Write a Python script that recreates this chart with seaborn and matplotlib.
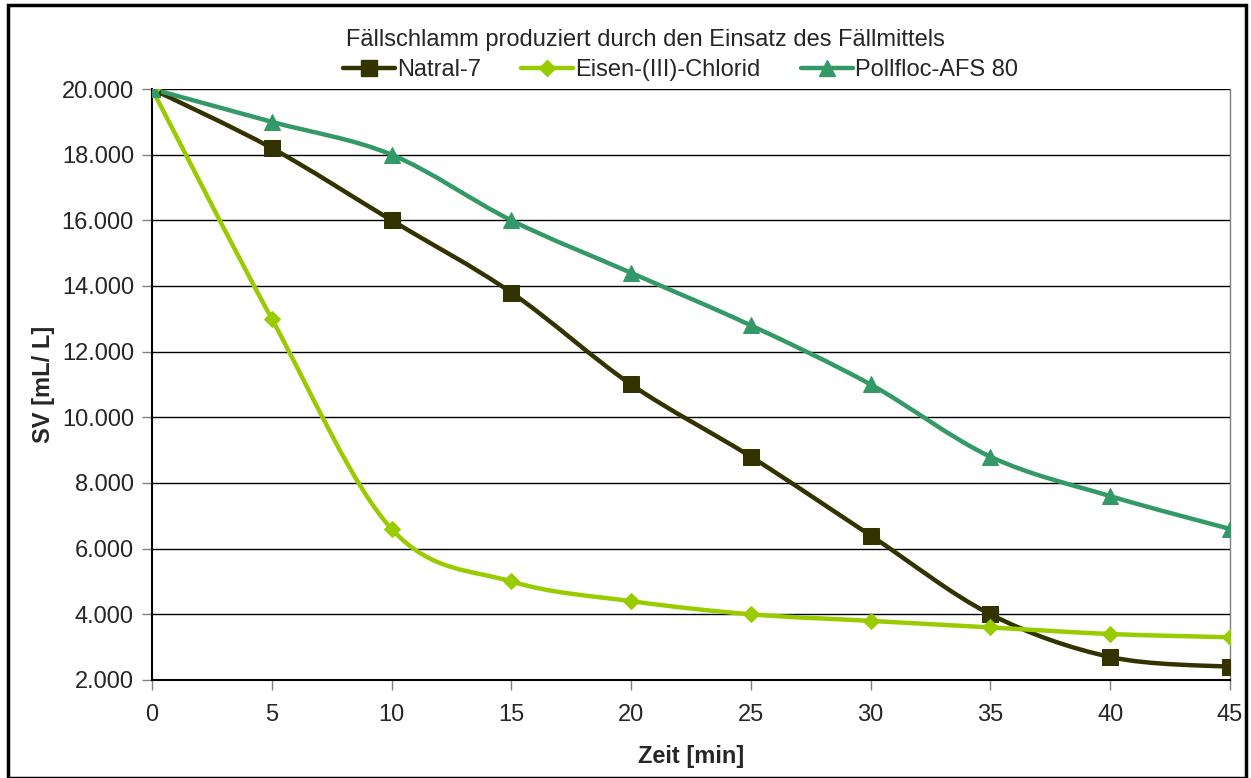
import numpy as np
import pandas as pd
import matplotlib
matplotlib.use("Agg")
import matplotlib.pyplot as plt
from matplotlib.path import Path
from matplotlib.patches import PathPatch, Rectangle
from matplotlib.ticker import FuncFormatter
from matplotlib.lines import Line2D
import seaborn as sns

time_min = [0, 5, 10, 15, 20, 25, 30, 35, 40, 45]
natral7 = [20000, 18200, 16000, 13800, 11000, 8800, 6400, 4000, 2700, 2400]
eisen = [20000, 13000, 6600, 5000, 4400, 4000, 3800, 3600, 3400, 3300]
pollfloc = [20000, 19000, 18000, 16000, 14400, 12800, 11000, 8800, 7600, 6600]
series_names = ["Natral-7", "Eisen-(III)-Chlorid", "Pollfloc-AFS 80"]
title = "Fällschlamm produziert durch den Einsatz des Fällmittels"
xlabel = "Zeit [min]"
ylabel = "SV [mL/ L]"

colors = ["#333300", "#99CC00", "#339966"]
markers = ["s", "D", "^"]
msizes = [12, 8.5, 12]

sns.set_theme(style="white")
plt.rcParams['font.family'] = ['Liberation Sans', 'DejaVu Sans']

fig = plt.figure(figsize=(12.51, 7.78), dpi=100)
ax = fig.add_axes([0.1215, 0.126, 0.8617, 0.7596])

rows = []
for name, vals in zip(series_names, [natral7, eisen, pollfloc]):
    for t, v in zip(time_min, vals):
        rows.append({"t": t, "v": v, "s": name})
df = pd.DataFrame(rows)


def smooth_path(x, y):
    # Excel-like smoothed line: cubic Bezier segments with Catmull-Rom tangents
    x = np.asarray(x, float); y = np.asarray(y, float)
    n = len(x)
    verts = [(x[0], y[0])]
    codes = [Path.MOVETO]
    for i in range(n - 1):
        p0 = np.array([x[max(i - 1, 0)], y[max(i - 1, 0)]])
        p1 = np.array([x[i], y[i]])
        p2 = np.array([x[i + 1], y[i + 1]])
        p3 = np.array([x[min(i + 2, n - 1)], y[min(i + 2, n - 1)]])
        c1 = p1 + (p2 - p0) / 6.0
        c2 = p2 - (p3 - p1) / 6.0
        verts += [tuple(c1), tuple(c2), tuple(p2)]
        codes += [Path.CURVE4] * 3
    return Path(verts, codes)


for name, col in zip(series_names, colors):
    sub = df[df.s == name]
    ax.add_patch(PathPatch(smooth_path(sub.t, sub.v), facecolor="none",
                           edgecolor=col, lw=3.2, zorder=3, capstyle="round"))

for name, col, mk, ms in zip(series_names, colors, markers, msizes):
    sub = df[df.s == name]
    sns.lineplot(data=sub, x="t", y="v", ax=ax, color=col, marker=mk,
                 markersize=ms, markeredgecolor=col, linestyle="none",
                 zorder=4, legend=False)

ax.set_xlim(0, 45)
ax.set_ylim(2000, 20000)
ax.set_xticks(time_min)
ax.set_yticks(np.arange(2000, 20001, 2000))
ax.yaxis.set_major_formatter(FuncFormatter(lambda v, p: f"{int(v):,}".replace(",", ".")))
ax.grid(axis="y", color="black", lw=1.0)
ax.set_axisbelow(True)
for s in ["left", "bottom"]:
    ax.spines[s].set_color("black"); ax.spines[s].set_linewidth(1.5)
for s in ["right", "top"]:
    ax.spines[s].set_color("#808080"); ax.spines[s].set_linewidth(1.0)
ax.spines["top"].set_visible(False)
ax.tick_params(axis="both", which="major", direction="out", length=7, width=1,
               color="#808080", labelsize=17, left=True, bottom=True)
ax.tick_params(axis="x", pad=10)
ax.tick_params(axis="y", pad=6)
ax.set_xlabel(xlabel, fontsize=17, fontweight="bold", labelpad=14)
ax.set_ylabel(ylabel, fontsize=17, fontweight="bold", labelpad=5)

fig.text(0.516, 0.948, title, ha="center", va="center", fontsize=17)

handles = [Line2D([0], [0], color=c, lw=3.2, marker=m, markersize=ms, markeredgecolor=c)
           for c, m, ms in zip(colors, markers, msizes)]
fig.legend(handles, series_names, loc="center", bbox_to_anchor=(0.544, 0.91),
           ncol=3, frameon=False, fontsize=17, handlelength=2.2, handletextpad=0.1,
           columnspacing=1.7, borderaxespad=0)

fig.add_artist(Rectangle((0.006, 0.0), 0.99, 0.993, transform=fig.transFigure,
                         fill=False, edgecolor="black", lw=2.5))

fig.savefig("out.png", dpi=100)
